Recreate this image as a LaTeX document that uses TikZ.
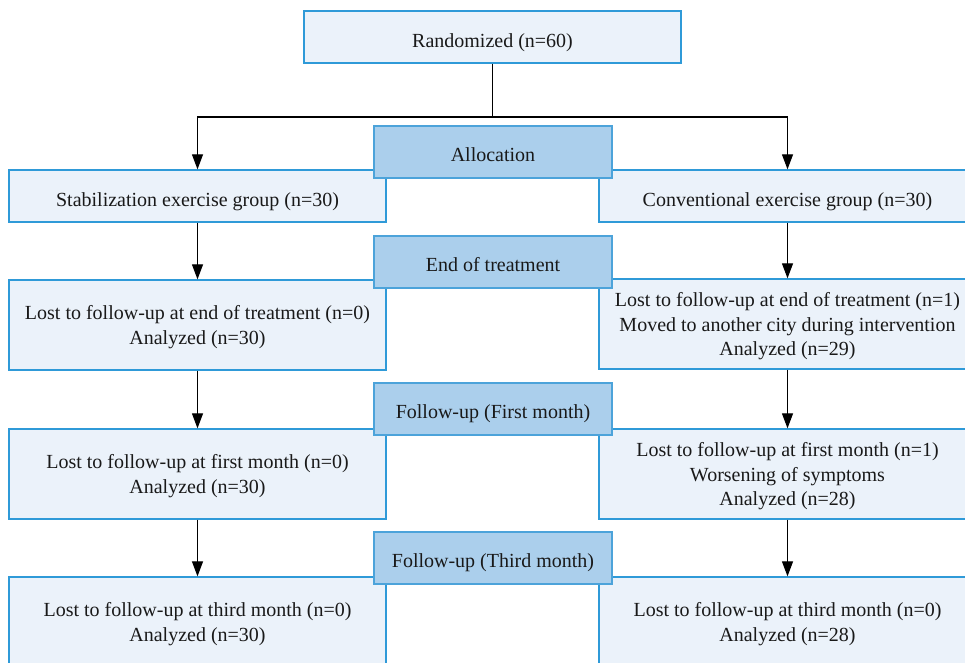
\documentclass[tikz,border=0pt]{standalone}
\usepackage{fontspec}
\setmainfont{Liberation Serif}
\usetikzlibrary{arrows.meta}
\definecolor{boxfill}{HTML}{EBF2FA}
\definecolor{boxline}{HTML}{2F9AD8}
\definecolor{phasefill}{HTML}{ABCFEC}
\definecolor{phaseline}{HTML}{4CA3DA}
\tikzset{
  sbox/.style={draw=boxline, fill=boxfill, line width=1.3pt, rectangle, align=center,
    minimum width=377pt, inner sep=0pt, text depth=0pt, font=\fontsize{20}{24.5}\selectfont, text=black!90,
    execute at begin node={\rule{0pt}{20pt}}},
  phase/.style={draw=phaseline, fill=phasefill, line width=1.3pt, rectangle, align=center,
    minimum width=238pt, minimum height=52pt, inner sep=0pt, text depth=0pt, font=\fontsize{20}{24.5}\selectfont, text=black!90,
    execute at begin node={\rule{0pt}{18pt}}},
  arr/.style={line width=1.1pt, -{Triangle[length=15pt,width=11pt]}},
  ln/.style={line width=1.1pt}
}
\begin{document}
\begin{tikzpicture}[x=1pt,y=-1pt]
\useasboundingbox (0,0) rectangle (965,662);
\clip (0,0) rectangle (965,662);
\fill[white] (0,0) rectangle (965,662);
% top
\node[sbox, minimum height=52pt] (rand) at (492.5,37) {Randomized (n=60)};
% left column
\node[sbox, minimum height=52pt] (g1) at (197.5,196) {Stabilization exercise group (n=30)};
\node[sbox, minimum height=90pt] (e1) at (197.5,325) {Lost to follow-up at end of treatment (n=0)\\Analyzed (n=30)};
\node[sbox, minimum height=90pt] (f1) at (197.5,474) {Lost to follow-up at first month (n=0)\\Analyzed (n=30)};
\node[sbox, minimum height=90pt] (t1) at (197.5,622) {Lost to follow-up at third month (n=0)\\Analyzed (n=30)};
% right column
\node[sbox, minimum height=52pt] (g2) at (787.5,196) {Conventional exercise group (n=30)};
\node[sbox, minimum height=90pt] (e2) at (787.5,324) {Lost to follow-up at end of treatment (n=1)\\Moved to another city during intervention\\Analyzed (n=29)};
\node[sbox, minimum height=90pt] (f2) at (787.5,474) {Lost to follow-up at first month (n=1)\\Worsening of symptoms\\Analyzed (n=28)};
\node[sbox, minimum height=90pt] (t2) at (787.5,622) {Lost to follow-up at third month (n=0)\\Analyzed (n=28)};
% phase boxes
\node[phase] (alloc) at (493,152) {Allocation};
\node[phase] (eot) at (493,262) {End of treatment};
\node[phase] (fu1) at (493,409) {Follow-up (First month)};
\node[phase] (fu3) at (493,558) {Follow-up (Third month)};
% connectors
\coordinate (split) at (492.5,117);
\draw[ln] (rand.south) -- (split);
\draw[arr] (split) -| (g1.north);
\draw[arr] (split) -| (g2.north);
\draw[arr] (g1) -- (e1);
\draw[arr] (e1) -- (f1);
\draw[arr] (f1) -- (t1);
\draw[arr] (g2) -- (e2);
\draw[arr] (e2) -- (f2);
\draw[arr] (f2) -- (t2);
\end{tikzpicture}
\end{document}
